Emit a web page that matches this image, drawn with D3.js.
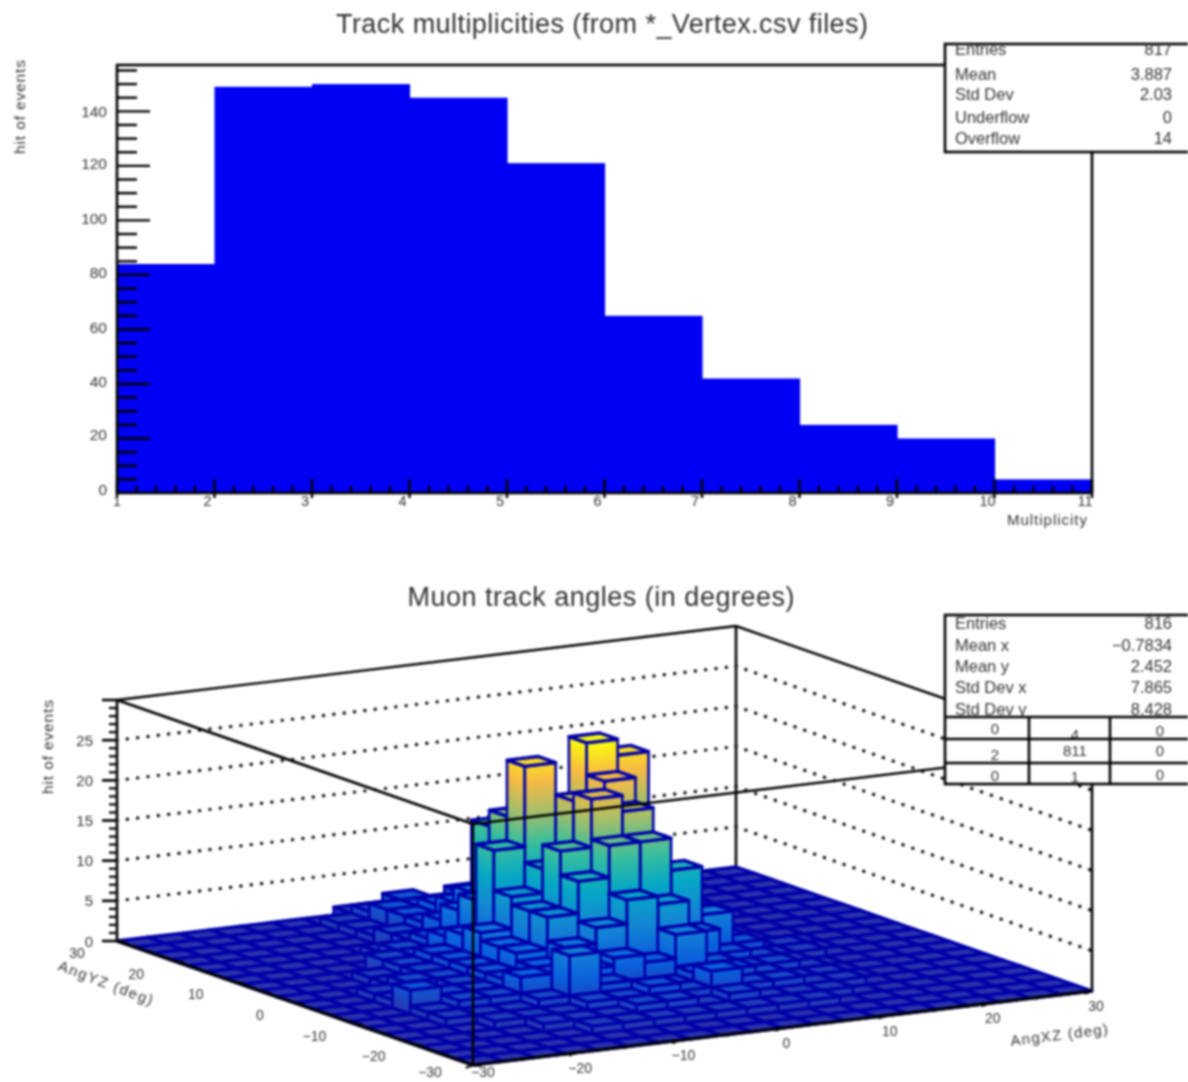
<!DOCTYPE html>
<html><head><meta charset="utf-8">
<script src="https://cdn.jsdelivr.net/npm/d3@7"></script>
<style>
html,body{margin:0;padding:0;background:#fff;overflow:hidden}
svg{display:block;filter:blur(1.05px)}
text{font-family:"Liberation Sans",Arial,sans-serif;fill:#333;filter:blur(0.55px)}
</style></head><body>
<svg id="c" width="1188" height="1082"></svg>
<script>
// ---- top histogram data
const multEdges = [1,2,3,4,5,6,7,8,9,10,11];
const multCounts = [84,149,150,145,121,65,42,25,20,5];
const multYTicks = [0,20,40,60,80,100,120,140];
const stats1Labels = ["Entries","Mean","Std Dev","Underflow","Overflow"];
const stats1Values = ["817","3.887","2.03","0","14"];
// ---- lego data: rows j = 0 (y=-30) .. 19 (y=+27), columns i = 0 (x=-30) .. 19
const angleEdgesStep = 3;
const legoCounts = [
[0,0,0,0,0,0,0,0,0,0,0,0,0,0,0,0,0,0,0,0],
[0,0,0,0,0,0,0,0,0,0,0,0,0,0,0,0,0,0,0,0],
[0,0,0,0,0,1,1,1,1,1,1,1,1,0,0,0,0,0,0,0],
[0,0,0,0,1,1,1,2,2,1,2,1,1,1,0,0,0,0,0,0],
[0,0,0,1,1,1,2,2,3,2,4,2,2,1,1,0,0,0,0,0],
[0,0,1,1,1,2,7,3,2,2,3,3,2,1,1,0,0,0,0,0],
[0,0,1,2,2,4,3,4,5,4,7,3,2,2,1,0,0,0,0,0],
[0,0,3,2,2,3,4,6,8,11,10,6,3,2,1,0,0,0,0,0],
[0,0,1,1,2,3,5,9,13,17,17,13,7,3,1,1,0,0,0,0],
[0,0,1,2,2,3,5,9,16,22,20,10,6,3,1,1,0,0,0,0],
[0,0,0,1,2,3,6,10,13,21,23,12,6,3,1,0,0,0,0,0],
[0,0,0,1,2,3,5,15,25,17,27,25,5,2,1,0,0,0,0,0],
[0,0,0,0,2,2,4,8,18,15,15,9,4,2,1,0,0,0,0,0],
[0,0,0,0,0,2,3,6,16,10,9,7,3,1,1,0,0,0,0,0],
[0,0,0,0,0,1,2,4,7,7,6,4,2,1,1,0,0,0,0,0],
[0,0,0,0,0,0,2,3,5,5,4,3,1,1,0,0,0,0,0,0],
[0,0,0,0,0,0,1,3,4,3,3,2,1,1,0,0,0,0,0,0],
[0,0,0,0,0,0,1,3,2,3,2,2,1,1,0,0,0,0,0,0],
[0,0,0,0,0,0,1,2,3,2,3,1,1,0,0,0,0,0,0,0],
[0,0,0,0,0,0,0,1,1,1,1,0,0,0,0,0,0,0,0,0]
];
const angleTicks = [-30,-20,-10,0,10,20,30];
const zTicks = [0,5,10,15,20,25];
const stats2Labels = ["Entries","Mean x","Mean y","Std Dev x","Std Dev y"];
const stats2Values = ["816","\u22120.7834","2.452","7.865","8.428"];
const overflowTable = [["0","4","0"],["2","811","0"],["0","1","0"]];
const birdColors = ["#2a33ac","#0a5fdc","#1485d4","#06a7c6","#38be9d","#a5be6a","#f8ba43","#f9fb0e"];

const svg = d3.select("#c");
const fmt = d => String(d).replace("-","\u2212");
function txt(g,x,y,s,size,anchor,extra){
  const t=g.append("text").attr("x",x).attr("y",y).attr("font-size",size).attr("text-anchor",anchor||"start").attr("dominant-baseline","central").text(s);
  if(extra) extra(t);
  return t;
}

// ================= TOP =================
const topG = svg.append("g");
const x1 = d3.scaleLinear().domain([1,11]).range([117,1092]);
const y1 = d3.scaleLinear().domain([0,157]).range([493,65]);
txt(topG,602,24,"Track multiplicities (from *_Vertex.csv files)",27,"middle",t=>t.attr("textLength",532));
topG.selectAll("rect.bar").data(multCounts).join("rect").attr("class","bar")
  .attr("x",(d,i)=>x1(multEdges[i])).attr("width",(d,i)=>x1(multEdges[i+1])-x1(multEdges[i])+0.6)
  .attr("y",d=>y1(d)).attr("height",d=>y1(0)-y1(d)).attr("fill","#0000f2");
// frame
topG.append("rect").attr("x",x1(1)).attr("y",y1(157)).attr("width",x1(11)-x1(1)).attr("height",y1(0)-y1(157)).attr("fill","none").attr("stroke","#000").attr("stroke-width",2.6);
// y ticks
d3.range(0,157,5).forEach(v=>{
  const maj=v%20===0;
  if(v>0) topG.append("line").attr("x1",x1(1)).attr("x2",x1(1)+(maj?33:20)).attr("y1",y1(v)).attr("y2",y1(v)).attr("stroke","#000").attr("stroke-width",2.4);
});
multYTicks.forEach(v=>txt(topG,107,y1(v)-(v<30?4:v>130?0:2),v,15.5,"end"));
// x ticks
d3.range(1,11.01,0.2).forEach(v=>{
  const maj=Math.abs(v-Math.round(v))<1e-6;
  topG.append("line").attr("x1",x1(v)).attr("x2",x1(v)).attr("y1",y1(0)+(maj?5:0)).attr("y2",y1(0)-(maj?14:7)).attr("stroke","#000").attr("stroke-width",2.4);
});
multEdges.forEach(v=>txt(topG,x1(v)-(v===1?0:7),501,v,14.5,"middle"));
txt(topG,1047,519,"Multiplicity",15,"middle",t=>t.attr("textLength",80));
txt(topG,0,0,"hit of events",15.5,"middle",t=>t.attr("transform","translate(19,107) rotate(-90)").attr("textLength",94));

function statsBox(x,y,w,h,labels,values,rowYs){
  const id="clip"+y;
  svg.append("clipPath").attr("id",id).append("rect").attr("x",x).attr("y",y).attr("width",w).attr("height",h);
  const g=svg.append("g");
  g.append("rect").attr("x",x).attr("y",y).attr("width",w+4).attr("height",h).attr("fill","#fff").attr("stroke","#000").attr("stroke-width",2.6);
  const t=g.append("g").attr("clip-path",`url(#${id})`);
  labels.forEach((l,i)=>{
    txt(t,955,rowYs[i],l,16.5,"start");
    txt(t,1172,rowYs[i],values[i],16.5,"end");
  });
  return g;
}
statsBox(945,44,243,108,stats1Labels,stats1Values,[49,74,94,117,138]);

// ================= LEGO =================
const lego = svg.append("g");
const floorF = {x:473,y:1065};
const xx = d3.scaleLinear().domain([-30,30]).range([0,619]);   // x-value -> screen dx
const xy = d3.scaleLinear().domain([-30,30]).range([0,-74]);   // x-value -> screen dy
const yx = d3.scaleLinear().domain([-30,30]).range([0,-356]);  // y-value -> screen dx
const yy = d3.scaleLinear().domain([-30,30]).range([0,-124]);  // y-value -> screen dy
const zy = d3.scaleLinear().domain([0,30]).range([0,-241]);    // z -> screen dy
const P=(a,b,z)=>[floorF.x+xx(a)+yx(b), floorF.y+xy(a)+yy(b)+zy(z)];
const color = d3.scaleLinear().domain(birdColors.map((c,i)=>i*27/(birdColors.length-1))).range(birdColors).clamp(true);
const line=(g,a,b,w,dash,col)=>{const l=g.append("line").attr("x1",a[0]).attr("y1",a[1]).attr("x2",b[0]).attr("y2",b[1]).attr("stroke",col||"#000").attr("stroke-width",w);if(dash)l.attr("stroke-dasharray",dash).attr("stroke-linecap","round");return l;};

txt(lego,601,597,"Muon track angles (in degrees)",27,"middle",t=>t.attr("textLength",387));
// back walls
const zTop=30;
line(lego,P(-30,30,0),P(-30,30,zTop),2.6);
line(lego,P(30,30,0),P(30,30,zTop),2.6);
line(lego,P(30,-30,0),P(30,-30,zTop),2.6);
line(lego,P(-30,30,zTop),P(30,30,zTop),2.4);
line(lego,P(30,30,zTop),P(30,-30,zTop),2.4);
zTicks.filter(z=>z>0).forEach(z=>{
  line(lego,P(-30,30,z),P(30,30,z),3.4,"0.1 10.3","#111");
  line(lego,P(30,30,z),P(30,-30,z),3.4,"0.1 10.3","#111");
});
// bars, back to front
const barLine="#0000a8";
const sliceG=lego.append("g");
for(let j=19;j>=0;j--) for(let i=19;i>=0;i--){
  const h=legoCounts[j][i];
  const a=-30+i*angleEdgesStep,b=-30+j*angleEdgesStep,a2=a+angleEdgesStep,b2=b+angleEdgesStep;
  const poly=(pts,fill,stroke,w)=>sliceG.append("polygon").attr("points",pts.map(p=>p.join(",")).join(" ")).attr("fill",fill).attr("stroke",stroke||"none").attr("stroke-width",stroke?w:0).attr("stroke-linejoin","round");
  if(h>0){
    const levels=d3.range(0,h,0.5);
    levels.forEach(z=>{
      const z2=Math.min(z+0.5,h),c=color(z+0.25);
      const lo=Math.max(z-0.12,0);
      poly([P(a,b,lo),P(a,b2,lo),P(a,b2,z2),P(a,b,z2)],c);
      poly([P(a,b,lo),P(a2,b,lo),P(a2,b,z2),P(a,b,z2)],c);
    });
    poly([P(a,b,0),P(a,b2,0),P(a,b2,h),P(a,b,h)],"none",barLine,2.6);
    poly([P(a,b,0),P(a2,b,0),P(a2,b,h),P(a,b,h)],"none",barLine,2.6);
  }
  poly([P(a,b,h),P(a2,b,h),P(a2,b2,h),P(a,b2,h)],h>0?color(h):birdColors[0],barLine,3.4);
}
// front box lines + axes
line(lego,P(-30,-30,0),P(-30,-30,zTop),2.4);
line(lego,P(-30,30,zTop),P(-30,-30,zTop),2.8);
line(lego,P(-30,-30,zTop),P(30,-30,zTop),2.4);
line(lego,P(-30,-30,0),P(-30,30,0),3);
line(lego,P(-30,-30,0),P(30,-30,0),3);
// z ticks
d3.range(0,30.01,1).forEach(z=>{
  const p=P(-30,30,z),maj=z%5===0;
  line(lego,[p[0]-(maj?15:8),p[1]],p,maj?2.6:2.2);
});
zTicks.forEach(z=>{const p=P(-30,30,z);txt(lego,p[0]-24,p[1],z,15,"end");});
// floor axis ticks and labels
d3.range(-30,30.01,5).forEach(v=>{
  const maj=v%10===0,len=maj?8:5;
  const p=P(v,-30,0);line(lego,p,[p[0]-len*0.9,p[1]+len*0.35],2.2);
  const q=P(-30,v,0);line(lego,q,[q[0]+len,q[1]+len*0.1],2.2);
});
angleTicks.forEach(v=>{
  const p=P(v,-30,0);
  if(v===-30) txt(lego,p[0]+10,p[1]+7,fmt(v),14,"middle");
  else txt(lego,p[0]+4,p[1]+15,fmt(v),14,"middle");
  const q=P(-30,v,0);
  if(v===-30) txt(lego,q[0]-43,q[1]+7,fmt(v),14,"middle");
  else txt(lego,q[0]-(v===0?35:40),q[1]+12,fmt(v),14,"middle");
});
txt(lego,0,0,"AngXZ (deg)",15,"middle",t=>t.attr("transform","translate(1059,1034) rotate(-7)").attr("textLength",98));
txt(lego,0,0,"AngYZ (deg)",15,"middle",t=>t.attr("transform","translate(106,982) rotate(21)").attr("textLength",100));
txt(lego,0,0,"hit of events",15.5,"middle",t=>t.attr("transform","translate(47,747) rotate(-90)").attr("textLength",94));

// stats with overflow table
const sb=statsBox(945,615,243,169,stats2Labels,stats2Values,[623,645,666,687,709]);
const rowLines=[717,739,763], colLines=[1029,1110];
rowLines.forEach(y=>line(sb,[945,y],[1190,y],2.6,null,"#000"));
colLines.forEach(x=>line(sb,[x,717],[x,784],2.6,null,"#000"));
const colCx=[995,1075,1160], rowCy=[[728,734,730],[754,750,750],[775,776,774]];
overflowTable.forEach((r,ri)=>r.forEach((s,ci)=>txt(sb,colCx[ci],rowCy[ri][ci],s,15,"middle")));
</script>
</body></html>
